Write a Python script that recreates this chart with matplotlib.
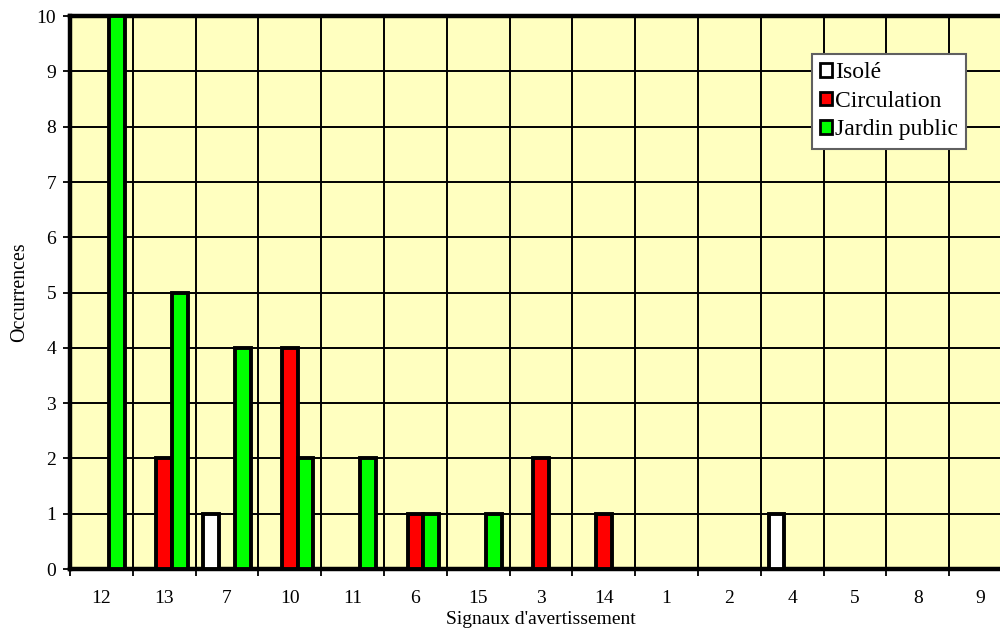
import numpy as np
import matplotlib.pyplot as plt

# Données
signaux = ['12', '13', '7', '10', '11', '6', '15', '3', '14', '1', '2', '4', '5', '8', '9']
isole = [0, 0, 1, 0, 0, 0, 0, 0, 0, 0, 0, 1, 0, 0, 0]
circulation = [0, 2, 0, 4, 0, 1, 0, 2, 1, 0, 0, 0, 0, 0, 0]
jardin = [10, 5, 4, 2, 2, 1, 1, 0, 0, 0, 0, 0, 0, 0, 0]

plt.rcParams['font.family'] = ['Liberation Serif', 'DejaVu Serif']

fig = plt.figure(figsize=(10, 6.34), dpi=100)
ax = fig.add_axes([0.070, 0.1025, 0.942, 0.872])
ax.set_facecolor('#FFFFC0')

x = np.arange(len(signaux))
w = 0.25
series = [(isole, 'white', 'Isolé'), (circulation, '#FF0000', 'Circulation'),
          (jardin, '#00FF00', 'Jardin public')]
for k, (vals, col, lab) in enumerate(series):
    v = np.array(vals, dtype=float)
    # barres nulles invisibles (comme Excel)
    v_plot = np.where(v > 0, v, np.nan)
    ax.bar(x + (k - 1) * w, v_plot, width=w, color=col, edgecolor='black',
           linewidth=2.8, label=lab, zorder=3)

ax.set_xlim(-0.5, len(signaux) - 0.5)
ax.set_ylim(0, 10)

# grille
ax.set_yticks(range(0, 11))
ax.set_xticks(x)
ax.set_xticklabels(signaux)
ax.set_xticks(np.arange(-0.5, len(signaux)), minor=True)
ax.tick_params(axis='x', which='major', length=0, pad=15, labelsize=14)
ax.tick_params(axis='x', which='minor', length=5, width=1.3, direction='out')
ax.tick_params(axis='y', length=5, width=1.3, pad=5, labelsize=14)
ax.grid(True, axis='y', color='black', linewidth=1.4, zorder=1)
ax.grid(True, axis='x', which='minor', color='black', linewidth=1.4, zorder=1)
ax.set_axisbelow(True)

for s in ['left', 'top', 'bottom']:
    ax.spines[s].set_linewidth(3.2)
ax.spines['right'].set_visible(False)

ax.set_xlabel("Signaux d'avertissement", fontsize=14, labelpad=3)
ax.set_ylabel('Occurrences', fontsize=14.3, labelpad=5)

leg = ax.legend(loc='upper left', bbox_to_anchor=(0.812, 0.915),
                bbox_transform=fig.transFigure, fontsize=17, frameon=True,
                fancybox=False, framealpha=1, edgecolor='#606060',
                handlelength=0.5, handleheight=0.5, handletextpad=0.12,
                labelspacing=0.32, borderpad=0.35, borderaxespad=0)
leg.get_frame().set_linewidth(1.5)
for h in leg.legend_handles:
    h.set_linewidth(2)

fig.savefig('out.png', dpi=100)
